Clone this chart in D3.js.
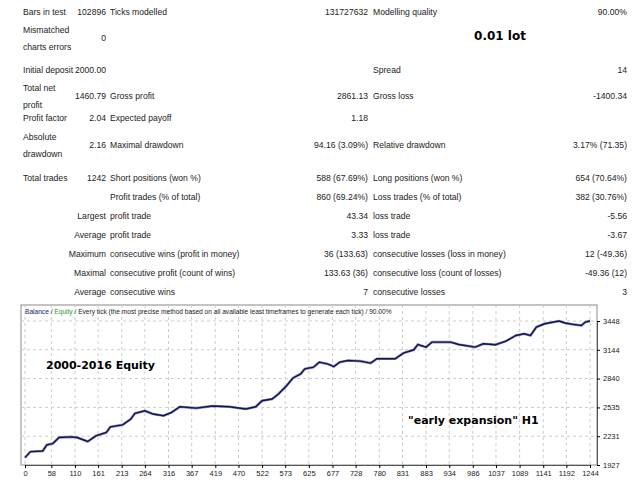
<!DOCTYPE html>
<html><head><meta charset="utf-8">
<script src="https://cdn.jsdelivr.net/npm/d3@7"></script>
<style>body{margin:0;background:#fff}svg{display:block}</style>
</head><body>
<svg id="c" width="640" height="480"></svg>
<script>
const trades = [0,12,39,48,61,75,102,115,138,156,179,188,215,233,242,264,282,305,323,341,377,413,450,486,508,522,544,558,576,590,607,616,635,648,666,680,693,711,738,761,775,815,833,856,865,883,896,937,955,991,1009,1036,1059,1081,1099,1113,1126,1144,1176,1189,1207,1225,1234,1244];
const equity = [2005,2068,2075,2139,2153,2217,2224,2217,2175,2235,2270,2330,2351,2412,2472,2500,2465,2447,2483,2542,2528,2550,2542,2518,2542,2606,2624,2677,2765,2846,2889,2942,2960,3013,2995,2967,3013,3031,3024,3003,3049,3049,3109,3144,3200,3172,3225,3225,3200,3172,3207,3197,3235,3295,3313,3295,3384,3419,3448,3427,3412,3401,3437,3448];
const yTicks = [1927,2231,2535,2840,3144,3448];
const xTicks = [0,58,110,161,213,264,316,367,419,470,522,573,625,677,728,780,831,883,934,986,1037,1089,1141,1192,1244];
// report rows: [label1, value1, label2, value2, label3, value3]
const rows = [
 ["Bars in test","102896","Ticks modelled","131727632","Modelling quality","90.00%"],
 ["Mismatched\ncharts errors","0","","","",""],
 ["Initial deposit","2000.00","","","Spread","14"],
 ["Total net\nprofit","1460.79","Gross profit","2861.13","Gross loss","-1400.34"],
 ["Profit factor","2.04","Expected payoff","1.18","",""],
 ["Absolute\ndrawdown","2.16","Maximal drawdown","94.16 (3.09%)","Relative drawdown","3.17% (71.35)"],
 ["Total trades","1242","Short positions (won %)","588 (67.69%)","Long positions (won %)","654 (70.64%)"],
 ["","","Profit trades (% of total)","860 (69.24%)","Loss trades (% of total)","382 (30.76%)"],
 ["","Largest","profit trade","43.34","loss trade","-5.56"],
 ["","Average","profit trade","3.33","loss trade","-3.67"],
 ["","Maximum","consecutive wins (profit in money)","36 (133.63)","consecutive losses (loss in money)","12 (-49.36)"],
 ["","Maximal","consecutive profit (count of wins)","133.63 (36)","consecutive loss (count of losses)","-49.36 (12)"],
 ["","Average","consecutive wins","7","consecutive losses","3"]
];
const rowY = [12,38,70,96,118,145,178,197,216,235,254,273,292];

const svg = d3.select("#c");
const F = "'Liberation Sans',Arial,sans-serif";
const g = svg.append("g").attr("font-family",F).attr("font-size",8.6).attr("fill","#222");
function txt(x,y,s,anchor){
  const lines = s.split("\n");
  const t = g.append("text").attr("text-anchor",anchor||"start");
  const y0 = y - (lines.length-1)*8.5 + 3;
  lines.forEach((l,i)=>t.append("tspan").attr("x",x).attr("y",y0+i*17).text(l));
}
rows.forEach((r,i)=>{
  const y=rowY[i];
  if(r[0]) txt(23,y,r[0]);
  if(r[1]) txt(106,y,r[1],"end");
  if(r[2]) txt(110,y,r[2]);
  if(r[3]) txt(368,y,r[3],"end");
  if(r[4]) txt(373,y,r[4]);
  if(r[5]) txt(627,y,r[5],"end");
});
svg.append("text").attr("x",500).attr("y",40).attr("text-anchor","middle")
 .attr("font-family","'DejaVu Sans',sans-serif").attr("font-weight","bold").attr("font-size",12).text("0.01 lot");

// chart
const L=21,R=597,T=305,B=465;
svg.append("rect").attr("x",L).attr("y",T).attr("width",R-L).attr("height",B-T).attr("fill","#fff").attr("stroke","#888");
const x = d3.scaleLinear().domain([0,1244]).range([25,590]);
const y = d3.scaleLinear().domain([1927,3448]).range([B,321]);
const gr = svg.append("g");
gr.selectAll("line.h").data(yTicks).join("line").attr("x1",L).attr("x2",R).attr("y1",d=>y(d)).attr("y2",d=>y(d))
  .attr("stroke","#ccc").attr("stroke-dasharray","3,3");
gr.selectAll("line.v").data(xTicks).join("line").attr("y1",T).attr("y2",B).attr("x1",d=>x(d)).attr("x2",d=>x(d))
  .attr("stroke","#ccc").attr("stroke-dasharray","3,3");
const ax = svg.append("g").attr("transform",`translate(0,${B})`)
  .call(d3.axisBottom(x).tickValues(xTicks).tickSize(3).tickFormat(d3.format("d")));
ax.select(".domain").attr("stroke","#555");
ax.selectAll("text").attr("font-family",F).attr("font-size",7.5).attr("fill","#222");
const ay = svg.append("g").attr("transform",`translate(${R},0)`)
  .call(d3.axisRight(y).tickValues(yTicks).tickSize(3).tickFormat(d3.format("d")));
ay.select(".domain").attr("stroke","#555");
ay.selectAll("text").attr("font-family",F).attr("font-size",7.5).attr("fill","#222");

const line = d3.line().x((d,i)=>x(trades[i])).y(d=>y(d)).curve(d3.curveLinear);
svg.append("path").datum(equity).attr("d",line).attr("fill","none").attr("stroke","#8a8ac0").attr("stroke-width",2.6);
svg.append("path").datum(equity).attr("d",line).attr("fill","none").attr("stroke","#141450").attr("stroke-width",1.4);

const hd = svg.append("text").attr("x",25).attr("y",314).attr("font-family",F).attr("font-size",6.6).attr("fill","#222");
hd.append("tspan").attr("fill","#1a1a6a").text("Balance");
hd.append("tspan").text(" / ");
hd.append("tspan").attr("fill","#2a9a2a").text("Equity");
hd.append("tspan").text(" / Every tick (the most precise method based on all available least timeframes to generate each tick) / 90.00%");

svg.append("text").attr("x",46).attr("y",369).attr("font-family","'DejaVu Sans',sans-serif").attr("font-weight","bold").attr("font-size",11).text("2000-2016 Equity");
svg.append("text").attr("x",408).attr("y",424).attr("font-family","'DejaVu Sans',sans-serif").attr("font-weight","bold").attr("font-size",11).text("\"early expansion\" H1");
</script>
</body></html>
